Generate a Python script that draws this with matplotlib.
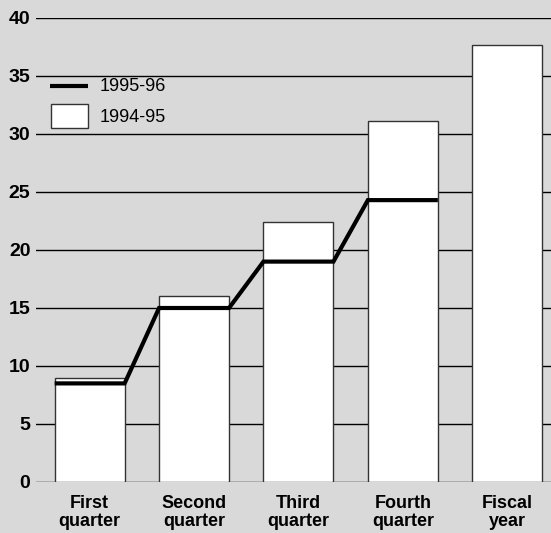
import matplotlib
matplotlib.use("Agg")
import matplotlib.pyplot as plt
from matplotlib.lines import Line2D
from matplotlib.patches import Rectangle

plt.rcParams['font.family'] = ['Liberation Sans', 'DejaVu Sans']

categories = ["First\nquarter", "Second\nquarter", "Third\nquarter", "Fourth\nquarter", "Fiscal\nyear"]
values_9495 = [9.0, 16.0, 22.4, 31.1, 37.7]
values_9596 = [8.5, 15.0, 19.0, 24.3]
yticks = [0, 5, 10, 15, 20, 25, 30, 35, 40]
series_labels = ["1995-96", "1994-95"]

BG = "#d9d9d9"
BAR_W = 0.67
W, H = 551, 533

fig = plt.figure(figsize=(W / 100, H / 100), dpi=100, facecolor=BG)
ax = fig.add_axes([36 / W, 1 - 482 / H, 1 - 36 / W, 464 / H])
ax.set_facecolor(BG)

x = list(range(len(categories)))
ax.bar(x, values_9495, width=BAR_W, color="white", edgecolor="#333333",
       linewidth=1.0, zorder=2)

# 1995-96 line: flat across each quarter's bar, sloped between bars
lx, ly = [], []
for i, v in enumerate(values_9596):
    lx += [i - BAR_W / 2, i + BAR_W / 2]
    ly += [v, v]
ax.plot(lx, ly, color="black", linewidth=3.0, solid_capstyle="butt",
        solid_joinstyle="miter", zorder=3)

for y in yticks:
    ax.axhline(y, color="black", linewidth=1.0, zorder=1)

ax.set_xlim(-0.514, 4.419)
ax.set_ylim(0, 40)
ax.set_yticks(yticks)
ax.set_yticklabels([str(t) for t in yticks], fontsize=14, fontweight="bold")
ax.set_xticks(x)
ax.set_xticklabels(categories, fontsize=13, fontweight="bold", linespacing=1.12)
ax.tick_params(axis="both", length=0)
ax.tick_params(axis="y", pad=4)
ax.tick_params(axis="x", pad=9)
for s in ax.spines.values():
    s.set_visible(False)


# Legend keys drawn in figure pixel space
def fx(px):
    return px / W


def fy(py):
    return 1 - py / H


fig.add_artist(Line2D([fx(50), fx(88)], [fy(86), fy(86)], color="black",
                      linewidth=3.0, solid_capstyle="butt"))
fig.add_artist(Rectangle((fx(51), fy(128)), fx(88) - fx(51), fy(104) - fy(128),
                         facecolor="white", edgecolor="#333333", linewidth=1.0))
fig.text(fx(100), fy(87), series_labels[0], fontsize=13, va="center", ha="left")
fig.text(fx(100), fy(117), series_labels[1], fontsize=13, va="center", ha="left")

fig.savefig("out.png", dpi=100, facecolor=BG)
